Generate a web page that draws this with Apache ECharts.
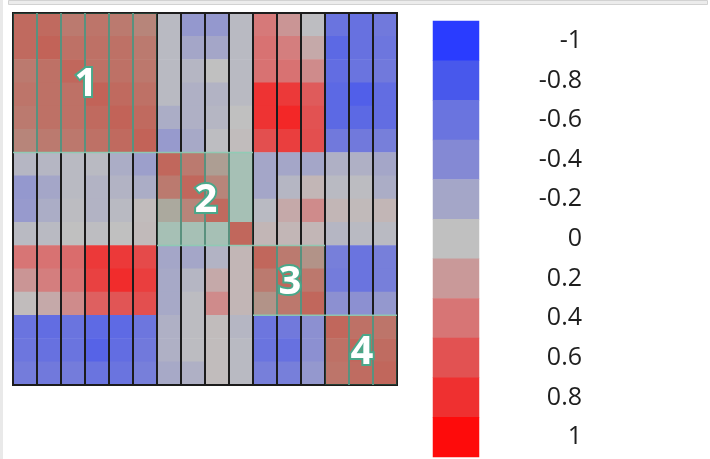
<!DOCTYPE html>
<html>
<head>
<meta charset="UTF-8">
<title></title>
<script src="https://cdn.jsdelivr.net/npm/echarts@6/dist/echarts.min.js"></script>
<style>
	html, body { margin: 0; padding: 0; background: #fff; }
	#main { width: 710px; height: 459px; }
</style>
</head>
<body>
<div id="main"></div>
<script>
	// 16 variables, symmetric-ish matrix
	var vars = ['v1', 'v2', 'v3', 'v4', 'v5', 'v6', 'v7', 'v8', 'v9', 'v10', 'v11', 'v12', 'v13', 'v14', 'v15', 'v16'];

	var row0 = [0.60, 0.60, 0.48, 0.52, 0.48, 0.40, -0.05, -0.30, -0.30, -0.05, 0.38, 0.22, -0.02, -0.60, -0.62, -0.55];
	var row1 = [0.60, 0.65, 0.55, 0.55, 0.55, 0.48, -0.05, -0.20, -0.20, -0.05, 0.42, 0.35, 0.12, -0.68, -0.62, -0.58];
	var row2 = [0.48, 0.55, 0.62, 0.55, 0.55, 0.50, -0.05, -0.08, 0.00, -0.05, 0.42, 0.42, 0.28, -0.65, -0.60, -0.55];
	var row3 = [0.52, 0.55, 0.55, 0.65, 0.60, 0.55, -0.05, -0.12, -0.10, -0.05, 0.78, 0.75, 0.55, -0.68, -0.75, -0.65];
	var row4 = [0.48, 0.55, 0.55, 0.60, 0.65, 0.60, -0.15, -0.12, -0.08, 0.00, 0.78, 0.85, 0.60, -0.68, -0.68, -0.65];
	var row5 = [0.40, 0.48, 0.50, 0.55, 0.60, 0.65, -0.28, -0.18, -0.02, 0.02, 0.62, 0.72, 0.62, -0.55, -0.55, -0.50];
	var row6 = [-0.08, -0.08, -0.05, -0.05, -0.15, -0.25, 0.62, 0.48, 0.22, 0.00, -0.20, -0.20, -0.20, -0.12, -0.12, -0.20];
	var row7 = [-0.30, -0.20, -0.05, -0.10, -0.10, -0.15, 0.48, 0.62, 0.40, 0.00, -0.20, -0.08, 0.05, -0.05, -0.03, -0.15];
	var row8 = [-0.28, -0.15, -0.03, -0.10, -0.05, 0.02, 0.15, 0.40, 0.60, 0.00, -0.05, 0.12, 0.28, 0.05, 0.03, 0.05];
	var row9 = [-0.05, -0.05, 0.00, -0.02, 0.00, 0.03, 0.00, 0.00, 0.00, 0.62, 0.05, 0.05, 0.05, -0.08, -0.05, -0.05];
	var row10 = [0.40, 0.42, 0.45, 0.75, 0.75, 0.65, -0.20, -0.20, -0.10, 0.05, 0.62, 0.48, 0.30, -0.50, -0.60, -0.50];
	var row11 = [0.22, 0.35, 0.42, 0.70, 0.82, 0.72, -0.18, -0.08, 0.12, 0.05, 0.48, 0.62, 0.50, -0.52, -0.60, -0.50];
	var row12 = [0.02, 0.12, 0.28, 0.52, 0.58, 0.62, -0.18, -0.03, 0.28, 0.05, 0.30, 0.50, 0.62, -0.35, -0.35, -0.30];
	var row13 = [-0.60, -0.65, -0.60, -0.67, -0.67, -0.58, -0.12, -0.03, 0.02, -0.08, -0.58, -0.55, -0.35, 0.62, 0.55, 0.52];
	var row14 = [-0.58, -0.62, -0.60, -0.72, -0.65, -0.55, -0.12, -0.03, 0.02, -0.05, -0.60, -0.62, -0.35, 0.55, 0.62, 0.58];
	var row15 = [-0.52, -0.55, -0.52, -0.60, -0.60, -0.50, -0.18, -0.12, 0.02, -0.05, -0.50, -0.50, -0.30, 0.52, 0.58, 0.62];
	var matrix = [row0, row1, row2, row3, row4, row5, row6, row7, row8, row9, row10, row11, row12, row13, row14, row15];

	// clusters
	var blockNames = ['1', '2', '3', '4'];
	var blockFrom = [0, 6, 10, 13];
	var blockTo = [5, 9, 12, 15];

	// colour bar
	var scaleLabels = ['-1', '-0.8', '-0.6', '-0.4', '-0.2', '0', '0.2', '0.4', '0.6', '0.8', '1'];
	var scaleValues = [-1, -0.8, -0.6, -0.4, -0.2, 0, 0.2, 0.4, 0.6, 0.8, 1];
	var scaleColors = ['#2a3cff', '#4858ec', '#6a74df', '#8489d4', '#a4a6c8', '#c0c0c0',
		'#c99999', '#d77575', '#e25252', '#ef3030', '#fe0b0b'];

	var cellData = [];
	for (var r = 0; r < matrix.length; r++) {
		for (var c = 0; c < matrix[r].length; c++) {
			cellData.push([c, r, matrix[r][c]]);
		}
	}
	var colData = vars.map(function(v, i) { return [i, 0]; });
	var blockData = blockNames.map(function(n, i) { return [blockFrom[i], blockTo[i], n]; });
	var scaleData = scaleValues.map(function(v, i) { return [0, i, v]; });

	var myChart = echarts.init(document.getElementById('main'));

	function renderColumn(params, api) {
		var c = api.value(0);
		var p0 = api.coord([c, 0]);
		var p1 = api.coord([c, vars.length - 1]);
		var s = api.size([1, 1]);
		return {
			type: 'rect',
			shape: { x: p0[0] - s[0] / 2, y: p0[1] - s[1] / 2, width: s[0], height: p1[1] - p0[1] + s[1] },
			style: { fill: 'none', stroke: '#1c1c1c', lineWidth: 2 }
		};
	}

	function renderBlock(params, api) {
		var a = api.value(0), b = api.value(1);
		var p0 = api.coord([a, a]);
		var p1 = api.coord([b, b]);
		var s = api.size([1, 1]);
		var x = p0[0] - s[0] / 2, y = p0[1] - s[1] / 2;
		var w = p1[0] - p0[0] + s[0], h = p1[1] - p0[1] + s[1];
		var edge = { stroke: 'rgba(140,205,180,0.9)', lineWidth: 1.5 };
		var children = [{
			type: 'rect',
			shape: { x: x, y: y, width: w, height: h },
			style: { fill: 'rgba(72,190,140,0.22)' }
		}];
		for (var k = a + 1; k <= b; k++) {
			var lx = api.coord([k, a])[0] - s[0] / 2;
			children.push({
				type: 'line',
				shape: { x1: lx, y1: y, x2: lx, y2: y + h },
				style: { stroke: 'rgba(100,160,140,0.85)', lineWidth: 2 }
			});
		}
		// light edge only where the block does not touch the outer frame
		if (a > 0) {
			children.push({ type: 'line', shape: { x1: x, y1: y, x2: x + w, y2: y }, style: edge });
		}
		if (b < vars.length - 1) {
			children.push({ type: 'line', shape: { x1: x, y1: y + h, x2: x + w, y2: y + h }, style: edge });
		}
		children.push({
			type: 'text',
			style: {
				text: blockNames[params.dataIndex],
				x: x + w / 2 + 1, y: y + h / 2 + 2,
				align: 'center', verticalAlign: 'middle',
				font: 'bold 40px "Open Sans"',
				fill: '#fff', stroke: '#4aa88a', lineWidth: 4,
				shadowColor: 'rgba(60,140,110,0.8)', shadowOffsetX: 2, shadowOffsetY: 2, shadowBlur: 0
			}
		});
		return { type: 'group', children: children };
	}

	myChart.setOption({
		backgroundColor: '#fff',
		animation: false,
		graphic: [
			{ type: 'rect', left: 0, top: 0, shape: { width: 3, height: 459 }, style: { fill: '#e9e9e9' } },
			{ type: 'rect', left: 8, top: 0, shape: { width: 699, height: 4 }, style: { fill: '#ececec', stroke: '#d2d2d2', lineWidth: 1 } }
		],
		grid: [
			{ left: 13, top: 13, width: 384, height: 372 },
			{ left: 433, top: 21, width: 46, height: 436 }
		],
		xAxis: [
			{ type: 'category', gridIndex: 0, data: vars, show: false },
			{ type: 'category', gridIndex: 1, data: ['scale'], show: false }
		],
		yAxis: [
			{ type: 'category', gridIndex: 0, data: vars, inverse: true, show: false },
			{
				type: 'category', gridIndex: 1, data: scaleLabels, inverse: true, position: 'right',
				axisLine: { show: false }, axisTick: { show: false },
				axisLabel: { align: 'right', margin: 103, fontSize: 25, color: '#1e1e1e', fontFamily: 'Open Sans', padding: [5, 0, 0, 0] }
			}
		],
		visualMap: {
			type: 'continuous', show: false, min: -1, max: 1, dimension: 2,
			seriesIndex: [0, 3],
			inRange: { color: scaleColors }
		},
		series: [{
			type: 'heatmap', xAxisIndex: 0, yAxisIndex: 0, data: cellData, z: 2,
			itemStyle: { borderWidth: 0 },
			emphasis: { disabled: true }
		}, {
			type: 'custom', xAxisIndex: 0, yAxisIndex: 0, data: colData, z: 3,
			renderItem: renderColumn, silent: true
		}, {
			type: 'custom', xAxisIndex: 0, yAxisIndex: 0, data: blockData, z: 4,
			renderItem: renderBlock, silent: true
		}, {
			type: 'heatmap', xAxisIndex: 1, yAxisIndex: 1, data: scaleData, z: 2,
			emphasis: { disabled: true }
		}]
	});
</script>
</body>
</html>
